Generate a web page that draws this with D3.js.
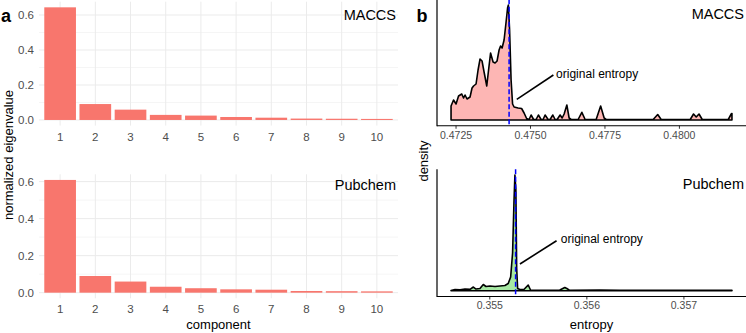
<!DOCTYPE html>
<html><head><meta charset="utf-8">
<script src="https://cdn.jsdelivr.net/npm/d3@7"></script>
<style>
body{margin:0;background:#fff}
svg{display:block}
text{font-family:"Liberation Sans",Arial,Helvetica,sans-serif}
</style>
</head><body>
<svg id="chart" width="746" height="333"></svg>
<script>
// ---------- data ----------
const components = ["1","2","3","4","5","6","7","8","9","10"];
const maccsEigen   = [0.644, 0.091, 0.059, 0.029, 0.025, 0.017, 0.013, 0.008, 0.007, 0.006];
const pubchemEigen = [0.609, 0.090, 0.060, 0.032, 0.024, 0.018, 0.016, 0.009, 0.008, 0.007];
const eigenTicks = [0, 0.2, 0.4, 0.6];
const eigenMinorTicks = [0.1, 0.3, 0.5];

const maccsEntropy = [0.472349,0.472433,0.472517,0.472601,0.472708,0.472769,0.472819,0.472886,0.472987,0.473054,
  0.473105,0.473189,0.473256,0.473323,0.473390,0.473458,0.473548,0.473609,0.473676,0.473760,
  0.473827,0.473894,0.473962,0.474012,0.474063,0.474130,0.474197,0.474247,0.474274,0.474315,
  0.474365,0.474415,0.474466,0.474600,0.474718,0.474802,0.474886,0.474970,0.475037,0.475121,
  0.475205,0.475282,0.475373,0.475440,0.475507,0.475608,0.475675,0.475766,0.475843,0.475911,
  0.476011,0.476079,0.476146,0.476237,0.476314,0.476381,0.476616,0.476741,0.476851,0.477221,
  0.477372,0.477490,0.477557,0.479136,0.479288,0.479405,0.480380,0.480491,0.480581,0.480675,
  0.480783,0.481657,0.481757,0.481781];
const maccsDensity = [140,200,160,240,260,220,250,210,230,320,
  340,360,500,610,590,480,340,500,670,580,
  570,590,700,740,720,800,980,1120,1150,900,
  400,160,130,120,115,70,15,5,50,5,
  5,50,5,5,50,5,5,50,5,5,
  50,20,60,150,20,5,5,77,5,5,
  140,20,5,5,55,5,5,60,30,60,
  5,5,60,65];
const maccsOriginal = 0.474298;
const maccsTicks = [0.4725, 0.4750, 0.4775, 0.4800];

const pubchemEntropy = [0.354606,0.354647,0.354699,0.354750,0.354802,0.354836,0.354863,0.354904,0.354938,0.354966,
  0.355007,0.355059,0.355110,0.355161,0.355195,0.355220,0.355240,0.355254,0.355264,0.355274,
  0.355282,0.355292,0.355316,0.355357,0.355401,0.355425,0.355521,0.355624,0.355727,0.355778,
  0.355799,0.355829,0.356138,0.356343,0.356652,0.356960,0.357165,0.357371,0.357500];
const pubchemDensity = [6,36,27,51,42,111,51,66,186,126,
  141,126,141,156,216,411,1131,2631,3471,3021,
  681,66,36,36,171,21,12,12,21,96,
  66,12,21,12,15,12,15,12,12];
const pubchemOriginal = 0.355271;
const pubchemTicks = [0.355, 0.356, 0.357];

// annotation anchors in data units [entropy, density]
const maccsNoteLine = [[0.474556, 207], [0.475786, 450]];
const maccsNoteText = [0.475877, 460];
const pubchemNoteLine = [[0.355316, 801], [0.355693, 1500]];
const pubchemNoteText = [0.355737, 1551];

// ---------- drawing ----------
const svg = d3.select("#chart");
const BAR = "#F8766D", GRID = "#EBEBEB", TICKTXT = "#4D4D4D";

function barPanel(values, top, bottom, label, labelY) {
  const x0 = 39, x1 = 398;
  const max = d3.max(values);
  const y = d3.scaleLinear().domain([-0.05 * max, 1.05 * max]).range([bottom, top]);
  const step = (x1 - x0) / 10.2;
  const x = d3.scaleBand().domain(components)
    .range([x0 + 0.1 * step, x1 - 0.1 * step]).paddingInner(0.1).paddingOuter(0.05);
  const g = svg.append("g");
  g.selectAll("line.minor").data(eigenMinorTicks).join("line")
    .attr("x1", x0).attr("x2", x1).attr("y1", d => y(d)).attr("y2", d => y(d))
    .attr("stroke", "#F3F3F3").attr("stroke-width", 0.8);
  g.selectAll("line.major").data(eigenTicks).join("line")
    .attr("x1", x0).attr("x2", x1).attr("y1", d => y(d)).attr("y2", d => y(d))
    .attr("stroke", GRID).attr("stroke-width", 1);
  g.selectAll("line.vmaj").data(components).join("line")
    .attr("x1", d => x(d) + x.bandwidth() / 2).attr("x2", d => x(d) + x.bandwidth() / 2)
    .attr("y1", top).attr("y2", bottom).attr("stroke", GRID).attr("stroke-width", 1);
  g.selectAll("rect").data(values).join("rect")
    .attr("x", (d, i) => x(components[i])).attr("width", x.bandwidth())
    .attr("y", d => y(d)).attr("height", d => y(0) - y(d)).attr("fill", BAR);
  g.selectAll("text.yt").data(eigenTicks).join("text")
    .attr("x", 34).attr("y", d => y(d)).attr("text-anchor", "end")
    .attr("dominant-baseline", "central").attr("font-size", 11.5).attr("fill", TICKTXT)
    .text(d => d3.format(".1f")(d));
  g.selectAll("text.xt").data(components).join("text")
    .attr("x", d => x(d) + x.bandwidth() / 2).attr("y", bottom + 11)
    .attr("text-anchor", "middle").attr("dominant-baseline", "central")
    .attr("font-size", 11.5).attr("fill", TICKTXT).text(d => d);
  g.append("text").attr("x", 396).attr("y", y(labelY)).attr("text-anchor", "end")
    .attr("dominant-baseline", "central").attr("font-size", 14.5).attr("fill", "#000").text(label);
}

barPanel(maccsEigen, 1.7, 125.6, "MACCS", 0.6);
barPanel(pubchemEigen, 174.3, 298.3, "Pubchem", 0.58);

svg.append("text").attr("x", 218.5).attr("y", 324).attr("text-anchor", "middle")
  .attr("dominant-baseline", "central").attr("font-size", 13).text("component");
svg.append("text").attr("transform", "translate(8,155) rotate(-90)").attr("text-anchor", "middle")
  .attr("dominant-baseline", "central").attr("font-size", 13).text("normalized eigenvalue");

function densityPanel(ent, dens, original, ticks, fmt, top, bottom, fill, label, noteLine, noteText) {
  const xl = 437, xr = 746;
  const [emin, emax] = d3.extent(ent);
  const ex = (emax - emin) * 0.05;
  const x = d3.scaleLinear().domain([emin - ex, emax + ex]).range([xl, xr]);
  const dmax = d3.max(dens);
  const y = d3.scaleLinear().domain([-0.05 * dmax, 1.05 * dmax]).range([bottom, top]);
  const pts = ent.map((e, i) => [e, dens[i]]);
  const g = svg.append("g");
  const area = d3.area().x(d => x(d[0])).y0(y(0)).y1(d => y(d[1]));
  g.append("path").attr("d", area(pts)).attr("fill", fill)
    .attr("stroke", "#000").attr("stroke-width", 1.6).attr("stroke-linejoin", "round");
  g.append("line").attr("x1", x(original)).attr("x2", x(original))
    .attr("y1", top).attr("y2", bottom).attr("stroke", "#0000FF")
    .attr("stroke-width", 1.5).attr("stroke-dasharray", "5,2.5");
  g.append("line").attr("x1", x(noteLine[0][0])).attr("y1", y(noteLine[0][1]))
    .attr("x2", x(noteLine[1][0])).attr("y2", y(noteLine[1][1]))
    .attr("stroke", "#000").attr("stroke-width", 1.6);
  g.append("text").attr("x", x(noteText[0])).attr("y", y(noteText[1]))
    .attr("dominant-baseline", "central").attr("font-size", 12).text("original entropy");
  // axes
  const ax = g.append("g").attr("transform", `translate(0,${bottom})`)
    .call(d3.axisBottom(x).tickValues(ticks).tickFormat(d3.format(fmt)).tickSize(3).tickPadding(2.5));
  ax.select(".domain").remove();
  ax.selectAll(".tick line").attr("stroke", "#333");
  ax.selectAll(".tick text").attr("font-size", 10.5).attr("fill", TICKTXT)
    .attr("font-family", '"Liberation Sans",Arial,sans-serif');
  g.append("line").attr("x1", xl).attr("x2", xr).attr("y1", bottom).attr("y2", bottom)
    .attr("stroke", "#000").attr("stroke-width", 1.2);
  g.append("line").attr("x1", xl).attr("x2", xl).attr("y1", top).attr("y2", bottom + 0.6)
    .attr("stroke", "#000").attr("stroke-width", 1.2);
  g.append("text").attr("x", 744).attr("y", top + 15).attr("text-anchor", "end")
    .attr("dominant-baseline", "central").attr("font-size", 14.5).text(label);
}

densityPanel(maccsEntropy, maccsDensity, maccsOriginal, maccsTicks, ".4f", -0.75, 125.75,
  "#FDB6B4", "MACCS", maccsNoteLine, maccsNoteText);
densityPanel(pubchemEntropy, pubchemDensity, pubchemOriginal, pubchemTicks, ".3f", 169.2, 296.5,
  "#A6E8A3", "Pubchem", pubchemNoteLine, pubchemNoteText);

svg.append("text").attr("x", 591.5).attr("y", 324).attr("text-anchor", "middle")
  .attr("dominant-baseline", "central").attr("font-size", 13).text("entropy");
svg.append("text").attr("transform", "translate(423,161) rotate(-90)").attr("text-anchor", "middle")
  .attr("dominant-baseline", "central").attr("font-size", 13).text("density");

svg.append("text").attr("x", 1).attr("y", 21.7).attr("font-family", '"Liberation Serif","Times New Roman",serif')
  .attr("font-weight", "bold").attr("font-size", 18).text("a");
svg.append("text").attr("x", 416.5).attr("y", 21.7).attr("font-family", '"Liberation Serif","Times New Roman",serif')
  .attr("font-weight", "bold").attr("font-size", 18).text("b");
</script>
</body></html>
